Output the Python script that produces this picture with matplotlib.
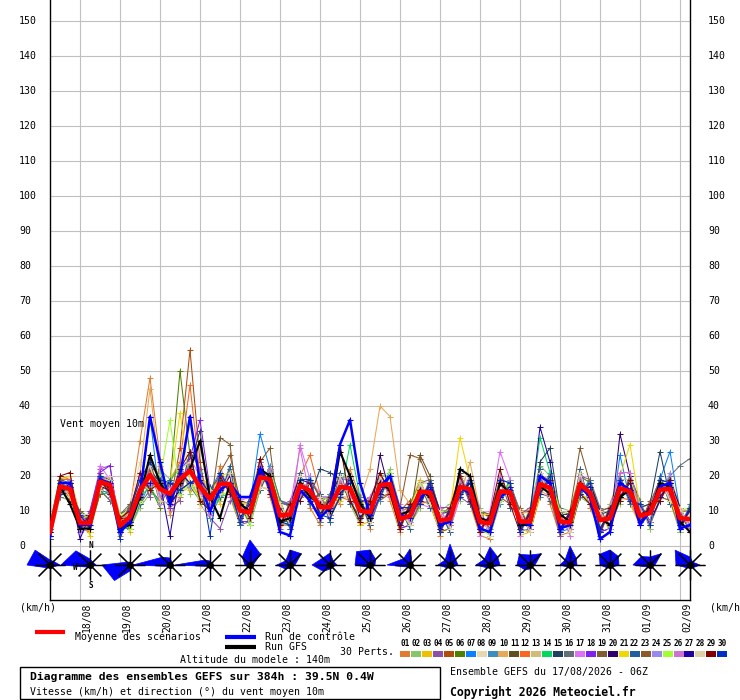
import numpy as np
import matplotlib
matplotlib.use('Agg')
import matplotlib.pyplot as plt
from matplotlib.lines import Line2D
from matplotlib.patches import Polygon, Rectangle

plt.rcParams['font.family'] = ['DejaVu Sans Mono', 'DejaVu Sans']

# --- data -------------------------------------------------------------
hours = list(range(0, 385, 6))          # 17/08 06Z -> 02/09 06Z
day_hours = list(range(18, 385, 24))    # 00Z of each day
day_labels = ['18/08', '19/08', '20/08', '21/08', '22/08', '23/08', '24/08', '25/08',
              '26/08', '27/08', '28/08', '29/08', '30/08', '31/08', '01/09', '02/09']

mean = [4, 17, 16.3, 6.6, 6.6, 18.4, 17.4, 5.8, 8.3, 15.8, 20.3, 16.3, 14.9,
        19.1, 21.5, 16.9, 13.4, 17.7, 17.7, 10.1, 9.6, 19.7, 19, 8.7, 9, 17.3,
        15.8, 11.1, 11.1, 16.9, 16.5, 10.1, 9.6, 17.4, 17.7, 7.7, 8.6, 15.5, 15.3,
        7.2, 7.8, 16.9, 16.2, 6.8, 6.5, 15.6, 15.4, 7.0, 7.0, 17.7, 16.6, 7.0,
        6.7, 17.7, 15.2, 7.4, 7.9, 16.5, 15.6, 8.6, 9.4, 16.1, 16.3, 7.9, 7.7]

control = [3, 18, 18, 6, 6, 19, 18, 4, 7, 15, 37, 24, 12,
           20, 37, 18, 10, 16, 18, 14, 14, 22, 17, 4, 3, 16,
           13, 8, 11, 29, 36, 18, 9, 17, 20, 9, 8, 14, 16,
           6, 7, 17, 15, 5, 4, 14, 16, 7, 6, 20, 18, 5,
           6, 17, 14, 2, 4, 18, 16, 6, 10, 17, 18, 5, 6]

gfs = [4, 17, 12, 5, 5, 18, 17, 5, 6, 14, 26, 18, 14,
       18, 22, 30, 14, 8, 18, 12, 10, 22, 20, 7, 8, 18,
       14, 12, 10, 27, 20, 12, 8, 18, 16, 9, 10, 16, 14,
       6, 7, 22, 20, 8, 7, 18, 15, 6, 6, 17, 15, 9,
       7, 18, 14, 8, 6, 14, 16, 9, 10, 18, 17, 7, 4]

pert_01 = [6, 20, 19, 4, 9, 21, 15, 3, 11, 30, 48, 25, 9,
           14, 26, 12, 8, 23, 14, 6, 13, 24, 14, 4, 12, 21,
           11, 6, 15, 12, 22, 14, 5, 21, 13, 4, 13, 11, 19,
           3, 11, 21, 12, 3, 2, 20, 11, 10, 4, 22, 12, 3,
           4, 22, 11, 4, 12, 20, 13, 12, 5, 19, 13, 4, 11]
pert_02 = [2, 14, 13, 10, 4, 15, 20, 8, 5, 11, 15, 22, 19,
           24, 15, 19, 16, 13, 22, 14, 7, 16, 23, 13, 6, 13,
           20, 14, 7, 20, 12, 6, 13, 14, 22, 11, 6, 11, 19,
           10, 12, 13, 20, 11, 3, 12, 18, 4, 11, 23, 20, 11,
           10, 14, 12, 3, 12, 12, 20, 13, 5, 20, 13, 4, 12]
pert_03 = [5, 19, 20, 9, 3, 21, 14, 9, 4, 13, 26, 12, 19,
           23, 16, 20, 17, 12, 22, 6, 13, 25, 15, 5, 13, 14,
           19, 7, 14, 13, 19, 6, 7, 20, 14, 5, 12, 19, 12,
           4, 5, 21, 13, 4, 9, 13, 19, 3, 4, 14, 21, 10,
           3, 15, 18, 10, 4, 20, 12, 6, 12, 13, 20, 11, 5]
pert_04 = [4, 14, 18, 5, 10, 22, 23, 4, 11, 20, 14, 23, 11,
           13, 27, 22, 8, 5, 13, 13, 6, 25, 15, 5, 13, 19,
           12, 14, 8, 21, 13, 13, 6, 14, 21, 11, 5, 18, 11,
           11, 11, 14, 12, 10, 3, 19, 11, 9, 11, 15, 14, 3,
           10, 20, 19, 4, 5, 19, 13, 12, 6, 20, 12, 10, 4]
pert_05 = [3, 16, 13, 9, 5, 15, 20, 8, 6, 12, 24, 13, 12,
           28, 56, 24, 9, 21, 15, 7, 14, 17, 22, 12, 5, 20,
           13, 15, 9, 14, 20, 12, 14, 13, 15, 10, 13, 12, 19,
           9, 11, 15, 19, 4, 9, 14, 12, 11, 5, 20, 19, 9,
           4, 15, 13, 3, 11, 14, 19, 6, 13, 13, 18, 10, 10]
pert_06 = [2, 16, 15, 10, 8, 16, 13, 9, 11, 19, 17, 11, 18,
           50, 26, 12, 15, 15, 21, 12, 6, 22, 16, 13, 11, 14,
           19, 9, 15, 20, 13, 7, 12, 15, 20, 5, 6, 13, 18,
           10, 5, 14, 18, 10, 8, 13, 18, 4, 10, 21, 14, 10,
           9, 20, 18, 10, 6, 13, 19, 11, 7, 18, 19, 5, 6]
pert_07 = [6, 19, 15, 4, 5, 20, 18, 4, 10, 14, 37, 13, 12,
           16, 18, 14, 16, 21, 15, 13, 12, 32, 22, 6, 11, 19,
           13, 8, 13, 19, 19, 13, 7, 20, 15, 10, 11, 13, 12,
           4, 10, 18, 13, 9, 9, 19, 18, 4, 5, 19, 14, 4,
           5, 20, 12, 10, 5, 26, 13, 11, 12, 19, 27, 10, 5]
pert_08 = [3, 15, 17, 9, 9, 15, 20, 7, 12, 24, 17, 12, 18,
           15, 24, 11, 10, 14, 20, 7, 13, 17, 16, 11, 6, 20,
           13, 14, 8, 14, 14, 12, 12, 20, 21, 5, 12, 12, 18,
           9, 6, 20, 18, 4, 4, 18, 12, 9, 4, 20, 13, 9,
           10, 15, 13, 9, 10, 13, 14, 10, 6, 14, 13, 10, 11]
pert_09 = [4, 18, 14, 9, 4, 20, 14, 5, 5, 12, 18, 21, 11,
           23, 17, 21, 8, 14, 22, 14, 6, 16, 23, 13, 12, 13,
           20, 7, 15, 14, 20, 7, 14, 13, 21, 5, 12, 12, 19,
           4, 11, 14, 20, 4, 9, 12, 18, 4, 10, 14, 21, 4,
           10, 15, 19, 4, 11, 13, 20, 6, 12, 13, 20, 5, 12]
pert_10 = [6, 18, 18, 5, 10, 19, 19, 9, 6, 21, 45, 20, 11,
           16, 18, 19, 15, 20, 15, 12, 12, 22, 16, 12, 7, 15,
           13, 13, 14, 14, 14, 13, 22, 40, 37, 16, 12, 13, 12,
           10, 5, 14, 24, 10, 9, 13, 18, 9, 10, 16, 14, 4,
           9, 15, 13, 10, 5, 14, 18, 11, 12, 13, 19, 10, 5]
pert_11 = [5, 15, 17, 6, 8, 17, 18, 7, 9, 19, 16, 13, 17,
           17, 24, 14, 16, 20, 15, 8, 12, 22, 17, 7, 7, 19,
           14, 14, 9, 19, 13, 12, 8, 19, 16, 10, 8, 26, 20,
           9, 6, 19, 14, 9, 5, 18, 13, 9, 5, 20, 15, 9,
           5, 20, 13, 9, 6, 18, 14, 11, 7, 18, 14, 10, 6]
pert_12 = [5, 19, 19, 5, 4, 20, 15, 4, 10, 13, 22, 13, 18,
           24, 46, 20, 10, 15, 20, 13, 12, 17, 16, 6, 11, 20,
           26, 15, 9, 14, 13, 13, 7, 20, 15, 10, 11, 12, 13,
           4, 11, 20, 13, 4, 4, 19, 12, 9, 5, 20, 14, 10,
           4, 15, 18, 5, 10, 14, 13, 6, 11, 13, 18, 5, 10]
pert_13 = [2, 14, 18, 9, 8, 15, 19, 8, 11, 12, 24, 19, 12,
           15, 17, 20, 16, 15, 22, 13, 7, 16, 22, 12, 12, 20,
           13, 8, 14, 20, 19, 7, 13, 14, 15, 11, 6, 18, 18,
           4, 11, 14, 19, 10, 3, 19, 12, 10, 4, 15, 20, 4,
           10, 21, 12, 10, 5, 19, 19, 6, 12, 19, 13, 11, 5]
pert_14 = [6, 20, 14, 5, 9, 15, 15, 4, 6, 14, 17, 12, 19,
           22, 24, 14, 10, 14, 15, 7, 13, 23, 16, 7, 6, 14,
           19, 14, 8, 14, 29, 14, 7, 20, 20, 5, 12, 18, 12,
           10, 5, 20, 13, 4, 9, 13, 19, 4, 10, 31, 21, 10,
           4, 15, 12, 10, 11, 13, 19, 12, 6, 14, 19, 5, 11]
pert_15 = [3, 15, 15, 8, 5, 20, 19, 8, 6, 19, 22, 18, 12,
           16, 23, 33, 11, 19, 16, 8, 12, 17, 22, 12, 12, 15,
           14, 22, 21, 19, 13, 8, 12, 15, 20, 6, 11, 13, 18,
           9, 10, 14, 18, 9, 9, 14, 17, 10, 4, 24, 28, 9,
           9, 15, 17, 9, 10, 19, 13, 11, 12, 27, 14, 10, 4]
pert_16 = [6, 14, 19, 5, 9, 16, 13, 9, 12, 12, 16, 20, 12,
           23, 17, 13, 17, 14, 22, 6, 7, 17, 22, 13, 12, 13,
           20, 7, 14, 14, 19, 14, 6, 14, 21, 5, 12, 18, 19,
           10, 4, 20, 12, 10, 3, 13, 18, 10, 4, 15, 20, 11,
           4, 14, 19, 11, 5, 13, 20, 13, 6, 13, 20, 23, 25]
pert_17 = [2, 19, 17, 4, 5, 23, 19, 8, 5, 19, 23, 12, 18,
           15, 25, 20, 9, 21, 14, 13, 14, 23, 16, 12, 6, 29,
           19, 15, 7, 20, 18, 7, 14, 20, 14, 12, 7, 12, 11,
           11, 5, 14, 20, 3, 10, 27, 19, 3, 10, 21, 13, 10,
           3, 21, 12, 10, 11, 21, 21, 6, 12, 19, 13, 11, 4]
pert_18 = [6, 15, 18, 5, 10, 21, 23, 4, 11, 18, 17, 19, 11,
           22, 25, 36, 16, 14, 21, 7, 7, 23, 16, 12, 12, 20,
           12, 14, 14, 14, 20, 13, 7, 15, 21, 5, 6, 18, 12,
           5, 11, 14, 19, 10, 4, 13, 18, 5, 4, 15, 20, 5,
           10, 15, 18, 4, 5, 19, 13, 12, 7, 13, 19, 6, 11]
pert_19 = [2, 19, 14, 10, 5, 15, 20, 5, 12, 13, 22, 13, 18,
           16, 18, 14, 10, 31, 29, 7, 13, 24, 28, 6, 6, 14,
           19, 14, 8, 14, 19, 7, 13, 20, 15, 11, 6, 12, 18,
           4, 11, 20, 13, 10, 9, 13, 18, 4, 10, 15, 20, 4,
           10, 28, 18, 4, 11, 13, 19, 6, 12, 19, 13, 5, 11]
pert_20 = [6, 15, 18, 8, 9, 16, 19, 8, 5, 19, 17, 19, 12,
           16, 24, 15, 16, 15, 15, 13, 7, 17, 21, 12, 12, 20,
           13, 13, 14, 20, 13, 13, 7, 26, 15, 5, 12, 12, 18,
           10, 10, 14, 19, 4, 4, 19, 12, 10, 5, 20, 14, 10,
           4, 15, 18, 10, 5, 32, 20, 12, 7, 13, 19, 11, 5]
pert_21 = [3, 18, 15, 8, 4, 19, 14, 7, 10, 18, 16, 19, 18,
           38, 18, 14, 10, 20, 21, 12, 12, 17, 16, 11, 6, 14,
           19, 8, 13, 14, 19, 12, 13, 14, 20, 6, 11, 18, 12,
           4, 10, 31, 19, 9, 9, 14, 17, 5, 4, 15, 19, 4,
           10, 15, 13, 4, 10, 20, 29, 11, 6, 18, 14, 5, 11]
pert_22 = [2, 19, 18, 5, 8, 16, 15, 4, 10, 12, 24, 13, 19,
           15, 27, 13, 17, 14, 23, 6, 14, 16, 22, 12, 5, 21,
           12, 15, 7, 21, 12, 13, 6, 21, 15, 11, 5, 18, 11,
           10, 4, 21, 12, 10, 3, 20, 11, 10, 4, 22, 13, 10,
           4, 22, 12, 10, 5, 20, 12, 12, 6, 20, 12, 11, 5]
pert_23 = [5, 19, 13, 9, 9, 20, 14, 7, 11, 13, 23, 13, 18,
           16, 24, 14, 10, 21, 26, 13, 7, 22, 17, 6, 12, 14,
           19, 14, 8, 19, 13, 13, 13, 14, 15, 11, 26, 25, 18,
           4, 5, 20, 13, 4, 9, 19, 12, 10, 10, 20, 14, 4,
           10, 20, 12, 10, 11, 14, 19, 6, 12, 14, 13, 11, 5]
pert_24 = [6, 15, 19, 8, 5, 20, 14, 7, 6, 20, 17, 19, 12,
           23, 17, 20, 10, 21, 15, 13, 7, 24, 16, 12, 12, 14,
           20, 8, 14, 14, 19, 7, 13, 14, 21, 5, 12, 12, 18,
           4, 11, 14, 19, 4, 9, 13, 18, 4, 10, 15, 20, 4,
           10, 15, 18, 4, 11, 13, 19, 6, 12, 13, 21, 5, 11]
pert_25 = [5, 15, 14, 9, 8, 16, 19, 9, 5, 13, 26, 19, 36,
           15, 18, 13, 16, 15, 15, 14, 6, 17, 22, 12, 7, 20,
           13, 13, 14, 14, 19, 7, 12, 14, 21, 10, 6, 18, 12,
           10, 10, 14, 19, 5, 3, 13, 18, 4, 9, 15, 20, 10,
           4, 15, 18, 5, 10, 13, 19, 12, 6, 19, 13, 10, 11]
pert_26 = [4, 18, 14, 9, 6, 19, 20, 8, 9, 14, 23, 14, 17,
           17, 24, 15, 11, 20, 16, 12, 8, 18, 22, 7, 11, 28,
           14, 13, 9, 19, 14, 12, 8, 19, 16, 10, 7, 17, 13,
           9, 6, 19, 14, 9, 4, 20, 13, 9, 5, 20, 15, 9,
           5, 20, 13, 9, 6, 21, 21, 11, 7, 18, 14, 10, 6]
pert_27 = [3, 16, 17, 2, 9, 17, 16, 5, 7, 18, 18, 18, 3,
           21, 18, 19, 15, 16, 20, 8, 12, 21, 17, 11, 7, 19,
           18, 9, 13, 15, 18, 8, 12, 15, 20, 6, 11, 13, 17,
           5, 10, 15, 18, 5, 8, 14, 17, 5, 9, 34, 24, 5,
           9, 16, 17, 5, 10, 14, 18, 7, 11, 14, 18, 6, 10]
pert_28 = [6, 18, 14, 9, 9, 16, 20, 5, 10, 18, 23, 13, 12,
           22, 24, 14, 16, 15, 21, 7, 13, 17, 16, 12, 6, 20,
           13, 14, 8, 20, 13, 13, 7, 20, 15, 11, 6, 18, 12,
           10, 5, 20, 13, 10, 3, 19, 12, 10, 4, 21, 14, 10,
           4, 21, 12, 10, 5, 19, 13, 12, 6, 19, 13, 11, 5]
pert_29 = [3, 20, 21, 5, 9, 19, 15, 8, 10, 21, 16, 18, 13,
           22, 27, 13, 10, 20, 15, 13, 8, 25, 15, 6, 12, 13,
           18, 8, 14, 29, 13, 7, 13, 21, 15, 5, 12, 12, 18,
           4, 11, 20, 13, 4, 9, 22, 12, 4, 10, 15, 19, 4,
           10, 15, 12, 4, 11, 13, 19, 6, 12, 13, 19, 5, 11]
pert_30 = [5, 15, 17, 9, 5, 20, 16, 2, 10, 19, 24, 19, 18,
           16, 18, 20, 3, 21, 16, 7, 13, 22, 16, 7, 6, 19,
           19, 9, 8, 14, 19, 13, 8, 14, 20, 11, 11, 12, 18,
           4, 10, 14, 19, 5, 4, 19, 18, 4, 9, 15, 20, 4,
           9, 15, 18, 4, 10, 19, 13, 12, 6, 19, 18, 5, 11]

perts = [pert_01, pert_02, pert_03, pert_04, pert_05, pert_06, pert_07, pert_08,
         pert_09, pert_10, pert_11, pert_12, pert_13, pert_14, pert_15, pert_16,
         pert_17, pert_18, pert_19, pert_20, pert_21, pert_22, pert_23, pert_24,
         pert_25, pert_26, pert_27, pert_28, pert_29, pert_30]

pert_colors = ['#e07c30', '#88c46c', '#f0c000', '#8c50a8', '#b04c0c', '#508000',
               '#0880ff', '#e8d8b0', '#3c8cc0', '#e8a858', '#605020', '#f86820',
               '#d0bc78', '#00d860', '#204060', '#607078', '#e070f8', '#8020f0',
               '#805c30', '#300070', '#f0d800', '#2060a0', '#905828', '#9888f0',
               '#a0ff30', '#d070d0', '#2000a0', '#e0d0a8', '#800000', '#0030c0']

# wind roses, one per day at 06Z: radius (px) towards N, NE, E, SE, S, SW, W, NW
rose_hours = list(range(0, 385, 24))
rose_radii = [
    [5, 5, 10, 3, 3, 4, 23, 21],
    [6, 4, 6, 2, 2, 3, 29, 20],
    [3, 2, 3, 3, 6, 22, 28, 4],
    [7, 3, 3, 2, 2, 2, 37, 11],
    [4, 3, 3, 2, 2, 2, 35, 7],
    [25, 15, 3, 2, 2, 3, 5, 11],
    [15, 16, 5, 2, 3, 6, 13, 6],
    [12, 5, 7, 3, 4, 9, 18, 10],
    [15, 8, 5, 2, 2, 3, 15, 19],
    [16, 3, 3, 2, 3, 3, 23, 9],
    [21, 8, 8, 3, 3, 4, 12, 7],
    [18, 11, 10, 3, 3, 4, 14, 8],
    [10, 16, 5, 2, 4, 7, 13, 15],
    [19, 9, 7, 2, 2, 3, 10, 7],
    [15, 12, 9, 3, 3, 4, 10, 15],
    [8, 16, 5, 2, 2, 3, 17, 12],
    [8, 4, 10, 4, 3, 4, 14, 21],
]

for p in perts:
    assert len(p) == len(hours)

# --- figure -------------------------------------------------------------
W, H = 740, 700
fig = plt.figure(figsize=(W / 100, H / 100), dpi=100)

def fx(x):
    return x / W

def fy(y):
    return 1 - y / H

# axes: x 50..690 px, y 0..600 px ; value 0 at y=546, 3.5 px per km/h
ax = fig.add_axes([fx(50), fy(600), 640 / W, 600 / H])
ax.set_xlim(0, 384)
ax.set_ylim(-54 / 3.5, 546 / 3.5)
SX = 384 / 640.0
SY = 1 / 3.5

grid_c = '#c0c0c0'
for h in day_hours:
    ax.axvline(h, color=grid_c, lw=0.8, zorder=0)
for v in range(0, 151, 10):
    ax.axhline(v, color=grid_c, lw=0.8, zorder=0)

ax.set_xticks([])
ax.set_yticks([])
for s in ['left', 'right', 'bottom']:
    ax.spines[s].set_color('black')
    ax.spines[s].set_linewidth(1.0)
ax.spines['top'].set_visible(False)

mono = dict(fontsize=7.1, color='black')

# y labels: left-aligned on both sides
for v in range(0, 151, 10):
    ax.text((19 - 50) / 640, v, str(v), transform=ax.get_yaxis_transform(),
            ha='left', va='center', **mono)
    ax.text(1 + 18 / 640, v, str(v), transform=ax.get_yaxis_transform(),
            ha='left', va='center', **mono)

for h, lab in zip(day_hours, day_labels):
    ax.text(h + 7 * SX, -3 / 600, lab, transform=ax.get_xaxis_transform(),
            rotation=90, ha='center', va='top', fontsize=7, clip_on=False)

# ensemble members
for vals, c in zip(perts, pert_colors):
    ax.plot(hours, vals, color=c, lw=0.75, marker='+', ms=4, mew=0.7, zorder=2)
ax.plot(hours, gfs, color='black', lw=1.5, marker='+', ms=4, mew=0.8, zorder=3)
ax.plot(hours, control, color='#0000ff', lw=1.8, marker='+', ms=4, mew=0.8, zorder=3)
ax.plot(hours, mean, color='#ff0000', lw=3.3, zorder=4)

ax.text((60 - 50) * SX, (546 - 424) / 3.5, 'Vent moyen 10m', ha='left', va='center',
        fontsize=7.1, zorder=5)

# wind roses
cy = (546 - 565) / 3.5
angles = np.deg2rad(np.arange(0, 360, 45))
for h, radii in zip(rose_hours, rose_radii):
    r = np.array(radii, dtype=float)
    px = h + r * np.sin(angles) * SX
    py = cy + r * np.cos(angles) * SY
    ax.add_patch(Polygon(np.column_stack([px, py]), closed=True, fc='#0000ff',
                         ec='#0000ff', lw=0.5, zorder=5, clip_on=False))
    for a in angles:
        L = 15 if int(round(np.rad2deg(a))) % 90 == 0 else 16
        ax.plot([h - L * np.sin(a) * SX, h + L * np.sin(a) * SX],
                [cy - L * np.cos(a) * SY, cy + L * np.cos(a) * SY],
                color='black', lw=0.9, zorder=6, clip_on=False, solid_capstyle='butt')
    ax.plot([h], [cy], 'o', color='black', ms=4, zorder=7, clip_on=False)

ax.text(24 + 1 * SX, 0, 'N', ha='center', va='center', fontsize=5.5,
        fontweight='bold', zorder=8)
ax.text(24 - 15 * SX, (546 - 567) / 3.5, 'W', ha='center', va='center', fontsize=5.5,
        fontweight='bold', zorder=8)
ax.text(24 + 1 * SX, (546 - 586) / 3.5, 'S', ha='center', va='center', fontsize=5.5,
        fontweight='bold', zorder=8)

# --- texts below the chart ---------------------------------------------------
fig.text(fx(20), fy(608), '(km/h)', ha='left', va='center', fontsize=7.1)
fig.text(fx(710), fy(608), '(km/h)', ha='left', va='center', fontsize=7.1)

fig.add_artist(Line2D([fx(35), fx(65)], [fy(631.5)] * 2, color='#ff0000', lw=3,
                      transform=fig.transFigure, solid_capstyle='butt'))
fig.text(fx(75), fy(637), 'Moyenne des scénarios', ha='left', va='center', fontsize=7.1)
fig.add_artist(Line2D([fx(225), fx(256)], [fy(637)] * 2, color='#0000ff', lw=3,
                      transform=fig.transFigure, solid_capstyle='butt'))
fig.text(fx(265), fy(637), 'Run de contrôle', ha='left', va='center', fontsize=7.1)
fig.add_artist(Line2D([fx(225), fx(256)], [fy(647)] * 2, color='black', lw=3,
                      transform=fig.transFigure, solid_capstyle='butt'))
fig.text(fx(265), fy(647), 'Run GFS', ha='left', va='center', fontsize=7.1)
fig.text(fx(340), fy(652), '30 Perts.', ha='left', va='center', fontsize=7.1)
fig.text(fx(180), fy(660), 'Altitude du modele : 140m', ha='left', va='center', fontsize=7.1)

for i, c in enumerate(pert_colors):
    x0 = 400 + i * 10.94
    fig.add_artist(Rectangle((fx(x0), fy(656.5)), 10 / W, 6 / H, fc=c, ec='none',
                             transform=fig.transFigure))
    fig.text(fx(x0 + 5), fy(643), '%02d' % (i + 1), ha='center', va='center',
             fontsize=5.5, fontweight='bold')

fig.add_artist(Rectangle((fx(20), fy(699)), 420 / W, 32 / H, fill=False, ec='black',
                         lw=1.0, transform=fig.transFigure))
fig.text(fx(30), fy(677), 'Diagramme des ensembles GEFS sur 384h : 39.5N 0.4W',
         ha='left', va='center', fontsize=8.2, fontweight='bold')
fig.text(fx(30), fy(692), 'Vitesse (km/h) et direction (°) du vent moyen 10m',
         ha='left', va='center', fontsize=7.1)
fig.text(fx(450), fy(672), 'Ensemble GEFS du 17/08/2026 - 06Z', ha='left', va='center',
         fontsize=7.1)
fig.text(fx(450), fy(692), 'Copyright 2026 Meteociel.fr', ha='left', va='center',
         fontsize=8.3, fontweight='bold')

fig.savefig('out.png', dpi=100)
